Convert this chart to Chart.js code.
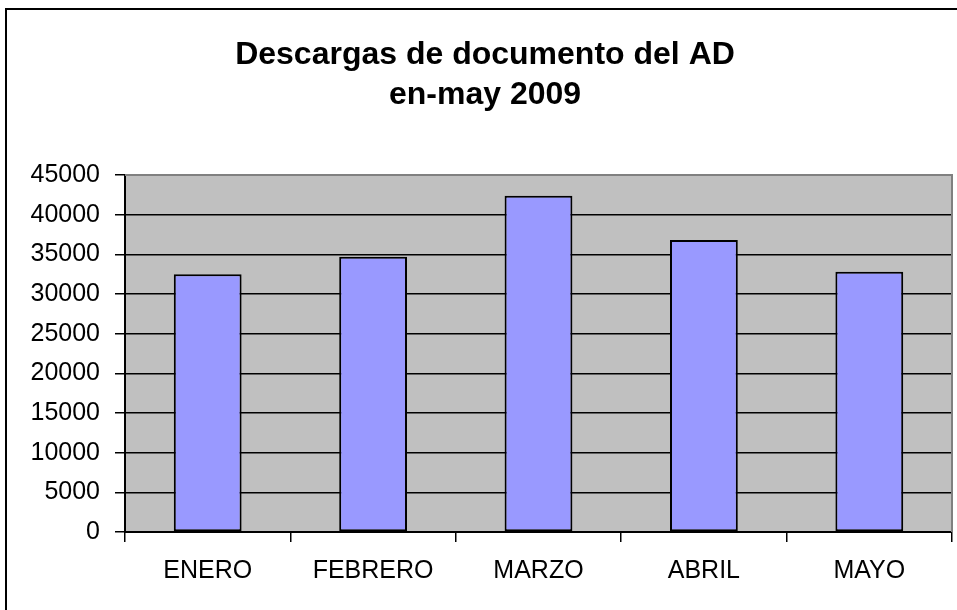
<!DOCTYPE html>
<html>
<head>
<meta charset="utf-8">
<title>Descargas de documento del AD</title>
<script src="https://cdn.jsdelivr.net/npm/chart.js@4/dist/chart.umd.min.js"></script>
<style>
    html, body { margin: 0; padding: 0; background: #fff; }
    canvas { display: block; }
</style>
</head>
<body>
<canvas id="myChart" width="957" height="610"></canvas>
<script>
const titleLines = ['Descargas de documento del AD', 'en-may 2009'];
const months = ['ENERO', 'FEBRERO', 'MARZO', 'ABRIL', 'MAYO'];
const downloads = [32500, 34700, 42400, 36800, 32800];
const yMin = 0;
const yMax = 45000;
const yStep = 5000;

const FONT = "'Liberation Sans', Arial, sans-serif";

// white page, grey plot area, black outer frame
const chartFrame = {
    id: 'chartFrame',
    beforeDraw(chart) {
        const { ctx, chartArea: a } = chart;
        ctx.save();
        ctx.fillStyle = '#ffffff';
        ctx.fillRect(0, 0, chart.width, chart.height);
        ctx.fillStyle = '#c0c0c0';
        ctx.fillRect(a.left, a.top, a.right - a.left, a.bottom - a.top);
        ctx.restore();
    },
    afterDraw(chart) {
        const { ctx, chartArea: a } = chart;
        ctx.save();
        ctx.strokeStyle = '#808080';
        ctx.lineWidth = 2;
        ctx.beginPath();
        ctx.moveTo(a.left, a.top);
        ctx.lineTo(a.right, a.top);
        ctx.lineTo(a.right, a.bottom);
        ctx.stroke();

        ctx.strokeStyle = '#000000';
        ctx.lineWidth = 2;
        ctx.strokeRect(6, 9, chart.width + 20, chart.height + 20);
        ctx.restore();
    }
};

const myChartRef = document.getElementById('myChart').getContext('2d');

new Chart(myChartRef, {
    type: 'bar',
    data: {
        labels: months,
        datasets: [{
            data: downloads,
            backgroundColor: '#9999ff',
            borderColor: '#000000',
            borderWidth: 2,
            borderSkipped: false,
            barPercentage: 0.41,
            categoryPercentage: 1
        }]
    },
    options: {
        responsive: false,
        animation: false,
        devicePixelRatio: 1,
        layout: { padding: { left: 18, right: 5, top: 0, bottom: 0 } },
        plugins: {
            legend: { display: false },
            tooltip: { enabled: false },
            title: {
                display: true,
                text: titleLines,
                color: '#000000',
                font: { family: FONT, size: 32, weight: 'bold', lineHeight: 1.25 },
                padding: { top: 35, bottom: 60 }
            }
        },
        scales: {
            x: {
                offset: true,
                grid: {
                    offset: true,
                    drawOnChartArea: false,
                    drawTicks: true,
                    tickLength: 10,
                    color: '#000000',
                    lineWidth: 1.5
                },
                border: { display: true, color: '#000000', width: 2 },
                ticks: {
                    color: '#000000',
                    padding: 14,
                    maxRotation: 0,
                    font: { family: FONT, size: 25 }
                },
                afterFit(scale) { scale.height = 78; }
            },
            y: {
                min: yMin,
                max: yMax,
                grid: {
                    color: '#000000',
                    lineWidth: 1.5,
                    drawTicks: true,
                    tickLength: 10
                },
                border: { display: true, color: '#000000', width: 2 },
                ticks: {
                    stepSize: yStep,
                    color: '#000000',
                    padding: 15,
                    font: { family: FONT, size: 25 },
                    callback: value => String(value)
                },
                afterFit(scale) { scale.width = 107; }
            }
        }
    },
    plugins: [chartFrame]
});
</script>
</body>
</html>
